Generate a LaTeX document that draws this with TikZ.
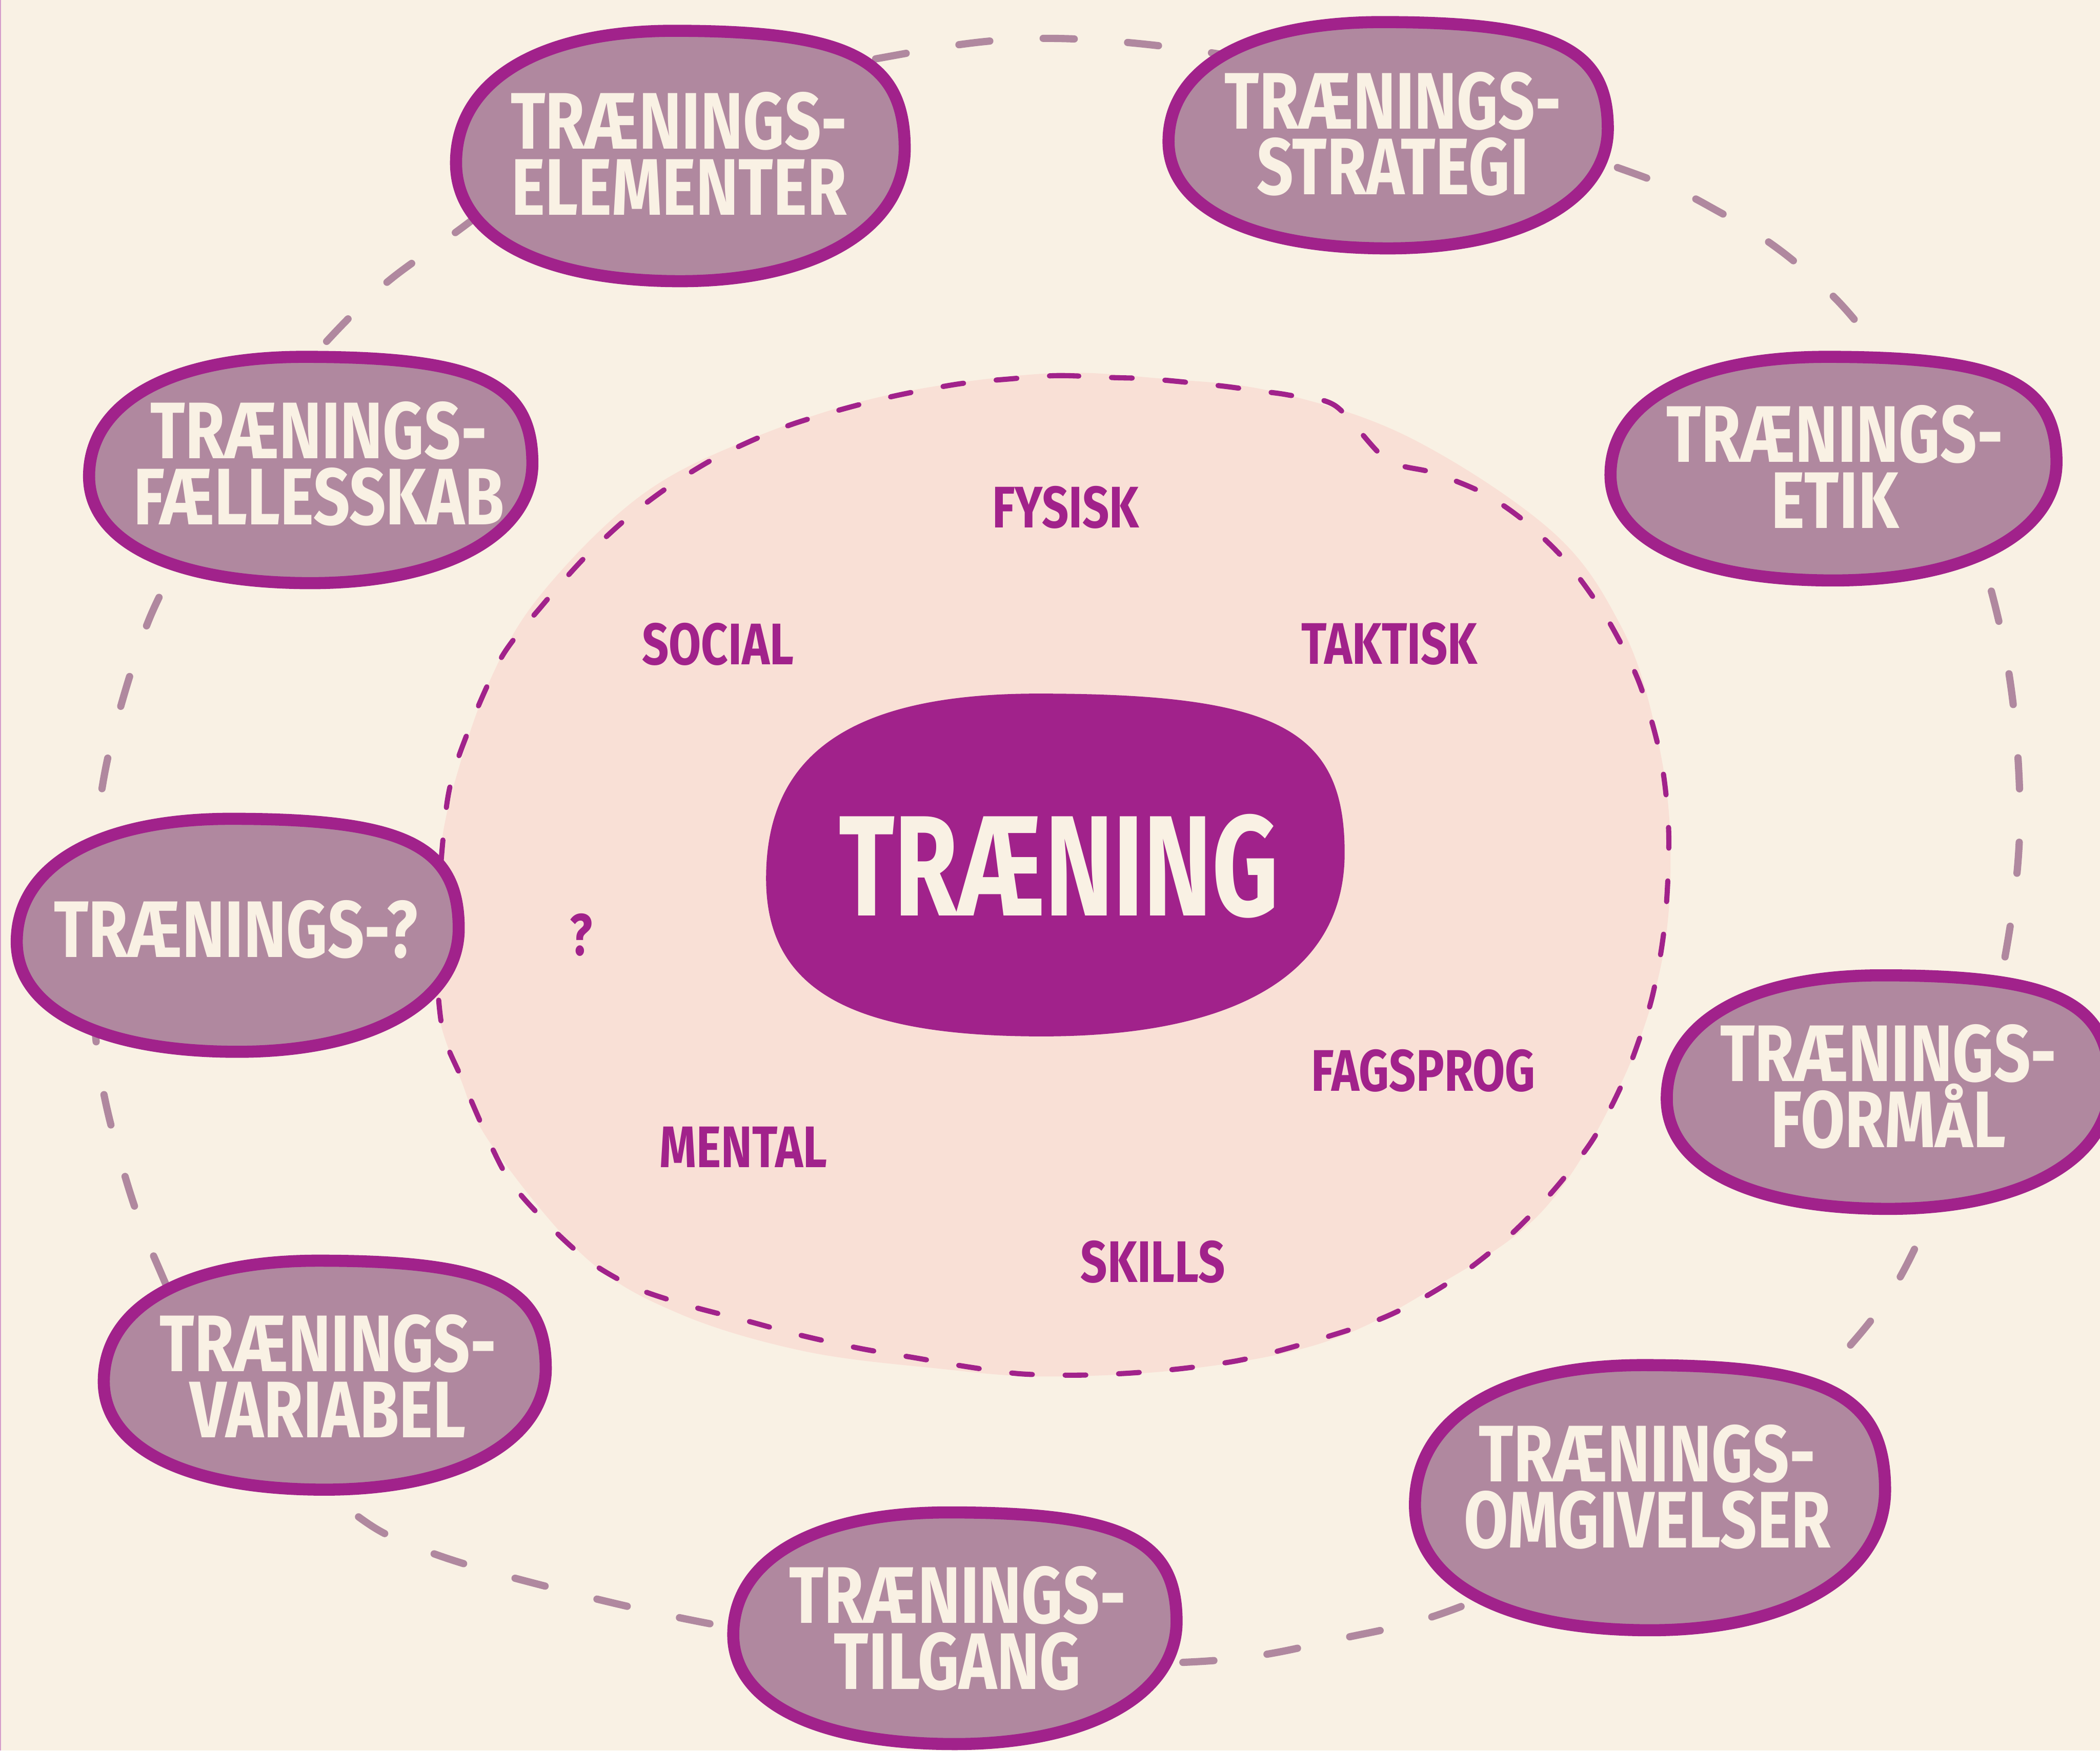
\documentclass[tikz,border=0pt]{standalone}
\usepackage{fontspec}
\setmainfont{Fira Sans}
\newfontfamily\boxfont[FakeStretch=0.8]{Fira Sans}
\newfontfamily\hubfont[FakeStretch=0.72]{Fira Sans}

\definecolor{cream}{HTML}{F9F1E4}
\definecolor{blush}{HTML}{F9E0D6}
\definecolor{plum}{HTML}{A1228B}
\definecolor{mauve}{HTML}{B0889F}

% rounded hand-drawn blob: centre (#1,#2), half sizes #3 x #4
\newcommand\blobat[4]{%
  \path[blobshape, shift={(#1,#2)}, xscale=#3, yscale=#4]
    (-1,0.056) .. controls (-1,-0.599) and (-0.631,-1) .. (-0.03,-1)
    .. controls (0.753,-1) and (1,-0.774) .. (1,-0.058)
    .. controls (1,0.577) and (0.6,1) .. (0,1)
    .. controls (-0.62,1) and (-1,0.641) .. (-1,0.056) -- cycle;}
% ring letter kept inside the cap height
\newcommand\Aring{\scalebox{1}[0.8]{Å}}

\begin{document}
\lineskiplimit=-60pt\relax
\begin{tikzpicture}[x=0.02728cm, y=-0.02728cm,
  boxtext/.style={text=cream, align=center, inner sep=0pt,
    font=\boxfont\bfseries\fontsize{46.5}{38.3}\selectfont},
  hubtext/.style={text=cream, inner sep=0pt,
    font=\hubfont\bfseries\fontsize{83}{83}\selectfont},
  facet/.style={text=plum, inner sep=0pt,
    font=\boxfont\bfseries\fontsize{34}{34}\selectfont},
  blobshape/.style={fill=mauve, draw=plum, line width=7pt, line join=round},
  ringdash/.style={draw=mauve, line width=4.2pt, line cap=round,
    dash pattern=on 18pt off 31pt},
  innerdash/.style={draw=plum, line width=3pt, line cap=round,
    dash pattern=on 12pt off 19pt},
]
\useasboundingbox (0,0) rectangle (1568,1307.4);
\fill[cream] (0,0) rectangle (1568,1307.4);
\draw[plum!45, line width=0.6pt] (0.4,0) -- (0.4,1307.4);

% inner field
\fill[blush] plot[smooth cycle, tension=0.6] coordinates {
  (780,279) (870,283) (953,293) (1053,327) (1159,397) (1210,467) (1235,540)
  (1247,623) (1241,717) (1210,810) (1152,904) (1070,962) (990,1002)
  (890,1022) (782,1028) (700,1022) (600,1009) (507,981) (437,939)
  (367,855) (344,806) (327,755) (324,690) (328,640) (339,586) (365,510)
  (403,445) (476,372) (555,330) (659,296)};

% outer ring
\path[ringdash] plot[smooth cycle, tension=0.6] coordinates {
  (334,178) (470,88) (648,45) (800,29) (1000,58) (1213,127) (1285,159)
  (1343,198) (1395,252) (1455,350) (1492,462) (1507,570) (1504,670)
  (1478,800) (1437,917) (1383,1003) (1260,1120) (1098,1197) (1000,1224)
  (893,1241) (700,1240) (532,1213) (405,1184) (315,1157) (260,1127)
  (170,1045) (116,941) (87,856) (72,780) (70,690) (76,590) (100,495)
  (128,428) (195,315) (268,230)};

% inner ring
\path[innerdash] plot[smooth cycle, tension=0.5] coordinates {
  (754,283) (790,280.5) (831,282) (859,283) (910,288) (940,292) (962,295)
  (997,303) (1035,343) (1070,353) (1107,368) (1138,389) (1170,420)
  (1200,462) (1224,510) (1240,566) (1246,623) (1243,690) (1233,747)
  (1214,803) (1190,850) (1160,889) (1127,923) (1092,951) (1056,973)
  (1023,988) (965,1006) (925,1016) (883,1022) (843,1025.5) (804,1027)
  (762,1026) (724,1021) (683,1014) (642,1007) (597,997) (556,986)
  (514,975) (475,962) (440,942) (409,914) (377,876) (345,806) (330,767)
  (326,700) (334,598) (350,545) (375,490) (405,452) (435,418) (467,388)
  (500,363) (538,340) (591,317) (658,298) (714,287)};

% central blob
\fill[plum, shift={(788,646)}, xscale=216, yscale=128]
  (-1,0.078) .. controls (-1,-0.655) and (-0.70,-1) .. (-0.06,-1)
  .. controls (0.767,-1) and (1,-0.795) .. (1,-0.07)
  .. controls (1,0.626) and (0.634,1) .. (-0.046,1)
  .. controls (-0.714,1) and (-1,0.723) .. (-1,0.078) -- cycle;
\node[hubtext] (hub) at (790.5,647) {TRÆNING};

% facets inside the field
\node[facet] (fysisk)   at (795.7,378.8) {FYSISK};
\node[facet] (social)   at (536,481)     {SOCIAL};
\node[facet] (taktisk)  at (1037.4,480.7){TAKTISK};
\node[facet] (fagsprog) at (1062.8,799.8){FAGSPROG};
\node[facet] (mental)   at (555,856.7)   {MENTAL};
\node[facet] (skills)   at (860.9,942.5) {SKILLS};
\node[facet] (qmark)    at (434,698)     {?};

% surrounding topics
\blobat{508}{116.5}{167.5}{93.5}
\node[boxtext] (elementer) at (507,114.8) {TRÆNINGS-\\ELEMENTER};
\blobat{1036.5}{101}{164}{84.5}
\node[boxtext] (strategi) at (1040,100) {TRÆNINGS-\\STRATEGI};
\blobat{1369}{350}{166.5}{83.5}
\node[boxtext] (etik) at (1370,348.5) {TRÆNINGS-\\ETIK};
\blobat{1410}{815.6}{165.5}{87.2}
\node[boxtext] (formaal) at (1410,811.6) {TRÆNINGS-\\FORM\Aring L};
\blobat{1232}{1118.5}{175.5}{99}
\node[boxtext] (omgivelser) at (1230,1110.5) {TRÆNINGS-\\OMGIVELSER};
\blobat{713}{1216}{165.5}{86.5}
\node[boxtext] (tilgang) at (715,1216) {TRÆNINGS-\\TILGANG};
\blobat{242.5}{1027}{165}{85.5}
\node[boxtext] (variabel) at (245,1027.5) {TRÆNINGS-\\VARIABEL};
\blobat{177.5}{698.5}{165}{87}
\node[boxtext] (ukendt) at (176,694) {TRÆNINGS-?};
\blobat{232}{351}{165.5}{84.5}
\node[boxtext] (faellesskab) at (238,346.5) {TRÆNINGS-\\FÆLLESSKAB};
\end{tikzpicture}
\end{document}
